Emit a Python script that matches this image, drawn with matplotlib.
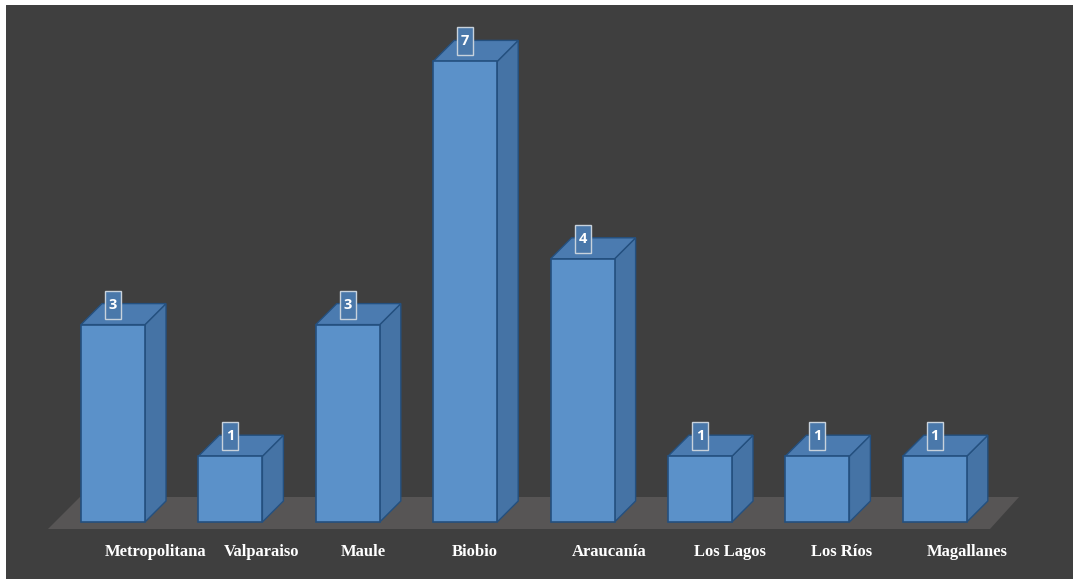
import numpy as np
import matplotlib.pyplot as plt
from matplotlib.patches import Polygon, Rectangle

regions = ['Metropolitana', 'Valparaiso', 'Maule', 'Biobio',
           'Araucanía', 'Los Lagos', 'Los Ríos', 'Magallanes']
counts = [3, 1, 3, 7, 4, 1, 1, 1]

# pixel geometry of the picture (px per category / per unit)
px_x = 117.4
px_y = 65.8
bar_w = 64 / px_x
dx = 21 / px_x
dy = 21 / px_y
label_nudge = [43, 31, 16, 10, 27, 30, 24, 32]  # px, labels sit right of bars

bg = '#3f3f3f'
front_c = '#5b91c9'
top_c = '#4b7bb0'
side_c = '#4573a5'
edge_c = '#24507f'

fig = plt.figure(figsize=(10.75, 5.79), dpi=100, facecolor='white')
ax = fig.add_axes([6 / 1075, 0, 1067 / 1075, 574 / 579])
ax.set_facecolor(bg)
ax.set_xlim((6 - 113) / px_x, (1073 - 113) / px_x)
ax.set_ylim(-(579 - 522) / px_y, (522 - 5) / px_y)
ax.set_axis_off()
ax.add_patch(Rectangle((0, 0), 1, 1, transform=ax.transAxes, color=bg, zorder=0))

# floor
fy0 = -7 / px_y
fy1 = 25 / px_y
floor = Polygon([(-65 / px_x, fy0), (877 / px_x, fy0),
                 (906 / px_x, fy1), (-33 / px_x, fy1)],
                closed=True, facecolor='#575555', edgecolor='none', zorder=1)
ax.add_patch(floor)

for i, v in enumerate(counts):
    x0 = i - bar_w / 2
    x1 = i + bar_w / 2
    side = Polygon([(x1, 0), (x1 + dx, dy), (x1 + dx, v + dy), (x1, v)],
                   closed=True, facecolor=side_c, edgecolor=edge_c, lw=1.0, zorder=2)
    top = Polygon([(x0, v), (x1, v), (x1 + dx, v + dy), (x0 + dx, v + dy)],
                  closed=True, facecolor=top_c, edgecolor=edge_c, lw=1.0, zorder=2)
    front = Rectangle((x0, 0), bar_w, v, facecolor=front_c,
                      edgecolor=edge_c, lw=1.2, zorder=3)
    ax.add_patch(side)
    ax.add_patch(top)
    ax.add_patch(front)

    # value label box
    bw = 16 / px_x
    bh = 28 / px_y
    by = v + 6 / px_y
    ax.add_patch(Rectangle((i - bw / 2, by), bw, bh, facecolor='#4a78aa',
                           edgecolor='#c8d2dc', lw=1.0, zorder=4))
    ax.text(i, by + bh / 2, str(v), ha='center', va='center', color='white',
            fontsize=10.5, fontweight='bold', family='Open Sans', zorder=5)

    ax.text(i + label_nudge[i] / px_x, -30 / px_y, regions[i], ha='center',
            va='center', color='white', fontsize=12, fontweight='bold',
            family='Liberation Serif', zorder=5)

fig.savefig('out.png', dpi=100, facecolor=fig.get_facecolor())
